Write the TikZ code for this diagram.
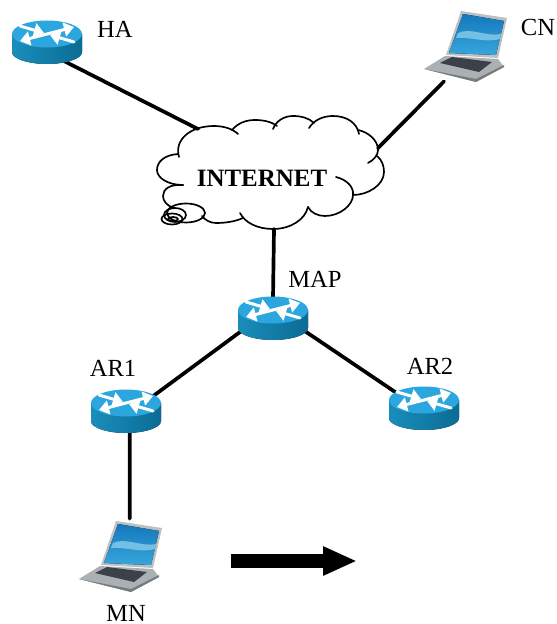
\documentclass[tikz,border=0pt]{standalone}
\usepackage{fontspec}
\setmainfont{Liberation Serif}
\usetikzlibrary{arrows.meta,shapes.geometric}
\definecolor{routertop}{HTML}{2BA6DE}
\definecolor{routerside}{HTML}{1283AC}
\definecolor{routerdark}{HTML}{0B6C94}
\definecolor{lapscreen}{HTML}{1478BC}
\definecolor{lapglow}{HTML}{38A6DC}
\definecolor{lapwave}{HTML}{74C0E4}
\definecolor{lapbody}{HTML}{ABB0B3}
\definecolor{lapedge}{HTML}{757B7F}
\definecolor{lapkeys}{HTML}{3C4048}
\tikzset{
  routernode/.style={shape=ellipse,minimum width=1.4cm,minimum height=0.84cm,inner sep=0pt},
  laptopnode/.style={shape=rectangle,minimum width=1.68cm,minimum height=1.44cm,inner sep=0pt},
  hostlabel/.style={inner sep=0pt,font=\fontsize{14}{16}\selectfont},
  link/.style={line width=2.1pt},
  cloudline/.style={line width=0.95pt},
  routerarrow/.style={white,line width=1.7pt,-{Triangle[length=0.2cm,width=0.28cm]}},
  movearrow/.style={line width=0.28cm,-{Triangle[length=0.68cm,width=0.54cm]}},
  pics/routericon/.style={code={
    \fill[left color=routerside!70!routertop,right color=routerdark] (-35,-9) -- (-35,9) .. controls (-35,16) and (-18,21) .. (0,21) .. controls (18,21) and (35,16) .. (35,9) -- (35,-9) -- cycle;
    \fill[routertop] (0,-9) ellipse (35 and 13.5);
    \draw[routerarrow] (0,-9) -- (-27,-2);
    \draw[routerarrow] (0,-9) -- (27,-16);
    \draw[routerarrow] (-27,-17) -- (-3,-10);
    \draw[routerarrow] (27,-1) -- (3,-8);
  }},
  pics/laptopicon/.style={code={
    \fill[lapbody] (-41,24) -- (-20,11) -- (33,14) -- (39,22) -- (11,37) -- cycle;
    \fill[lapedge] (-41,24) -- (11,34) -- (39,20) -- (39,22) -- (11,37) -- cycle;
    \fill[lapkeys] (-25,18) -- (-13,12) -- (27,17) -- (14,27) -- cycle;
    \fill[lapbody!80!white] (-4,-34) -- (42,-27) -- (33,13) -- (-19,10) -- cycle;
    \fill[top color=lapscreen,bottom color=lapglow] (-2,-31) -- (39,-24) -- (31,10) -- (-16,8) -- cycle;
    \fill[lapwave] (-7,-12) .. controls (6,-18) and (20,-8) .. (36,-11) -- (35,-6) .. controls (20,-2) and (8,-8) .. (-9,-7) -- cycle;
  }}
}
\begin{document}
\begin{tikzpicture}[line cap=round,line join=round,x=0.02cm,y=-0.02cm]
\useasboundingbox (0,0) rectangle (556,624);
% hosts and routers
\node[routernode] (ha) at (47,43) {};
\node[routernode] (map) at (273,319) {};
\node[routernode] (ar1) at (126,412) {};
\node[routernode] (ar2) at (424,409) {};
\node[laptopnode] (cn) at (465,45) {};
\node[laptopnode] (mn) at (120,555) {};
% where the links meet the cloud
\coordinate (cloudha) at (198,129);
\coordinate (cloudcn) at (378,148);
\coordinate (cloudmap) at (274,229);
\coordinate (movestart) at (231,561);
\coordinate (moveend) at (357,561);
% links
\draw[link] (ha.-46) -- (cloudha);
\draw[link] (cn.-120) -- (cloudcn);
\draw[link] (map.90) -- (cloudmap);
\draw[link] (map.200) -- (ar1.30);
\draw[link] (map.-20) -- (ar2.150);
\draw[link] (ar1.-80) -- (mn.75);
\draw[movearrow,line cap=butt] (movestart) -- (moveend);
% cloud
\draw[cloudline] (179,157) .. controls (174,140) and (190,126) .. (214,126) .. controls (224,126) and (233,129) .. (238,134);
\draw[cloudline] (232,130) .. controls (238,123) and (246,120) .. (255,120) .. controls (264,120) and (272,122) .. (277,126);
\draw[cloudline] (273,129) .. controls (276,121) and (284,116) .. (293,116) .. controls (301,116) and (309,118) .. (314,123);
\draw[cloudline] (309,128) .. controls (314,120) and (323,116) .. (333,116) .. controls (347,116) and (357,123) .. (359,134);
\draw[cloudline] (358,130) .. controls (368,132) and (378,140) .. (378,150) .. controls (378,155) and (374,160) .. (368,163);
\draw[cloudline] (377,156) .. controls (382,160) and (384,166) .. (384,172) .. controls (384,185) and (368,195) .. (353,195);
\draw[cloudline] (336,177) .. controls (348,180) and (354,188) .. (353,195) .. controls (353,205) and (340,216) .. (325,216) .. controls (318,216) and (311,213) .. (308,207);
\draw[cloudline] (308,207) .. controls (305,220) and (290,229) .. (273,229) .. controls (258,229) and (245,223) .. (240,213);
\draw[cloudline] (243,218) .. controls (234,222) and (224,223) .. (216,223) .. controls (210,223) and (205,220) .. (202,216);
\draw[cloudline] (183,185) .. controls (170,184) and (163,189) .. (163,196) .. controls (163,201) and (167,206) .. (174,208);
\draw[cloudline] (178,154) .. controls (164,155) and (157,162) .. (157,170) .. controls (157,178) and (168,185) .. (183,185);
\draw[cloudline] (186,213) ellipse (19 and 9.5);
\draw[cloudline] (175,215) ellipse (11 and 7);
\draw[cloudline] (172,219) ellipse (10.5 and 5.5);
\draw[cloudline] (173,219) ellipse (5 and 2);
% icons
\pic at (ha) {routericon};
\pic at (map) {routericon};
\pic at (ar1) {routericon};
\pic at (ar2) {routericon};
\pic at (cn) {laptopicon};
\pic at (mn) {laptopicon};
% labels
\node[hostlabel] (halabel) at (115,29) {HA};
\node[hostlabel] (cnlabel) at (538,27) {CN};
\node[hostlabel] (maplabel) at (315,279) {MAP};
\node[hostlabel] (ar1label) at (113,368) {AR1};
\node[hostlabel] (ar2label) at (430,366) {AR2};
\node[hostlabel] (mnlabel) at (126,613) {MN};
\node[hostlabel,font=\fontsize{14.2}{16}\selectfont\bfseries] (internet) at (262,178) {INTERNET};
\end{tikzpicture}
\end{document}
